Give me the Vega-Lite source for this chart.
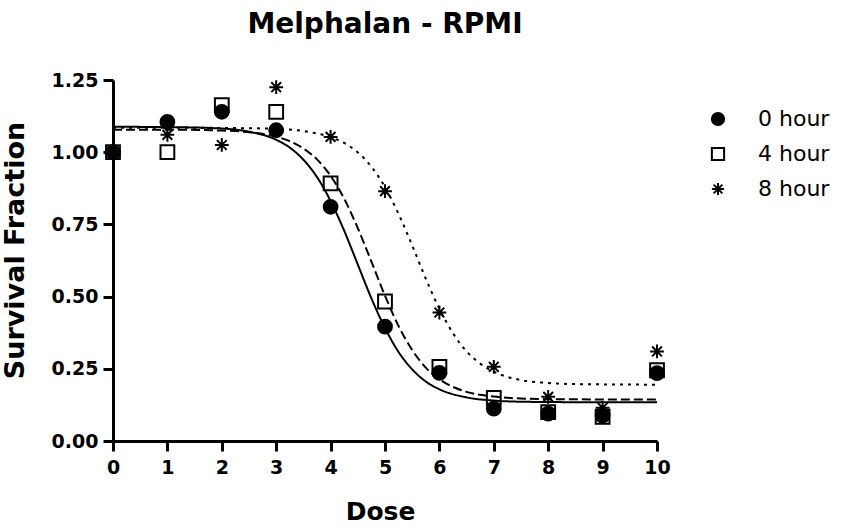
{
  "$schema": "https://vega.github.io/schema/vega-lite/v6.json",
  "autosize": "none",
  "width": 544,
  "height": 361,
  "padding": {"left": 113, "top": 80, "right": 184, "bottom": 87},
  "background": "white",
  "title": {
    "text": "Melphalan - RPMI",
    "font": "DejaVu Sans",
    "fontSize": 28,
    "fontWeight": "bold",
    "color": "black",
    "anchor": "middle",
    "offset": 32
  },
  "datasets": {
    "curves": [
      {"fit": "0 hour", "dose": 0, "fraction": 1.088},
      {"fit": "0 hour", "dose": 1, "fraction": 1.087},
      {"fit": "0 hour", "dose": 2, "fraction": 1.082},
      {"fit": "0 hour", "dose": 2.5, "fraction": 1.071},
      {"fit": "0 hour", "dose": 3, "fraction": 1.043},
      {"fit": "0 hour", "dose": 3.25, "fraction": 1.016},
      {"fit": "0 hour", "dose": 3.5, "fraction": 0.974},
      {"fit": "0 hour", "dose": 3.75, "fraction": 0.914},
      {"fit": "0 hour", "dose": 4, "fraction": 0.831},
      {"fit": "0 hour", "dose": 4.25, "fraction": 0.728},
      {"fit": "0 hour", "dose": 4.5, "fraction": 0.611},
      {"fit": "0 hour", "dose": 4.75, "fraction": 0.494},
      {"fit": "0 hour", "dose": 5, "fraction": 0.391},
      {"fit": "0 hour", "dose": 5.25, "fraction": 0.308},
      {"fit": "0 hour", "dose": 5.5, "fraction": 0.248},
      {"fit": "0 hour", "dose": 5.75, "fraction": 0.206},
      {"fit": "0 hour", "dose": 6, "fraction": 0.179},
      {"fit": "0 hour", "dose": 6.5, "fraction": 0.151},
      {"fit": "0 hour", "dose": 7, "fraction": 0.140},
      {"fit": "0 hour", "dose": 7.5, "fraction": 0.136},
      {"fit": "0 hour", "dose": 8, "fraction": 0.135},
      {"fit": "0 hour", "dose": 9, "fraction": 0.134},
      {"fit": "0 hour", "dose": 10, "fraction": 0.134},
      {"fit": "4 hour", "dose": 0, "fraction": 1.078},
      {"fit": "4 hour", "dose": 1, "fraction": 1.078},
      {"fit": "4 hour", "dose": 2, "fraction": 1.075},
      {"fit": "4 hour", "dose": 2.5, "fraction": 1.069},
      {"fit": "4 hour", "dose": 3, "fraction": 1.054},
      {"fit": "4 hour", "dose": 3.25, "fraction": 1.038},
      {"fit": "4 hour", "dose": 3.5, "fraction": 1.013},
      {"fit": "4 hour", "dose": 3.75, "fraction": 0.975},
      {"fit": "4 hour", "dose": 4, "fraction": 0.918},
      {"fit": "4 hour", "dose": 4.25, "fraction": 0.839},
      {"fit": "4 hour", "dose": 4.5, "fraction": 0.737},
      {"fit": "4 hour", "dose": 4.75, "fraction": 0.621},
      {"fit": "4 hour", "dose": 5, "fraction": 0.503},
      {"fit": "4 hour", "dose": 5.25, "fraction": 0.398},
      {"fit": "4 hour", "dose": 5.5, "fraction": 0.315},
      {"fit": "4 hour", "dose": 5.75, "fraction": 0.254},
      {"fit": "4 hour", "dose": 6, "fraction": 0.214},
      {"fit": "4 hour", "dose": 6.5, "fraction": 0.170},
      {"fit": "4 hour", "dose": 7, "fraction": 0.154},
      {"fit": "4 hour", "dose": 7.5, "fraction": 0.147},
      {"fit": "4 hour", "dose": 8, "fraction": 0.145},
      {"fit": "4 hour", "dose": 9, "fraction": 0.144},
      {"fit": "4 hour", "dose": 10, "fraction": 0.144},
      {"fit": "8 hour", "dose": 0, "fraction": 1.085},
      {"fit": "8 hour", "dose": 1, "fraction": 1.085},
      {"fit": "8 hour", "dose": 2, "fraction": 1.084},
      {"fit": "8 hour", "dose": 3, "fraction": 1.081},
      {"fit": "8 hour", "dose": 3.5, "fraction": 1.073},
      {"fit": "8 hour", "dose": 4, "fraction": 1.052},
      {"fit": "8 hour", "dose": 4.25, "fraction": 1.032},
      {"fit": "8 hour", "dose": 4.5, "fraction": 0.999},
      {"fit": "8 hour", "dose": 4.75, "fraction": 0.950},
      {"fit": "8 hour", "dose": 5, "fraction": 0.879},
      {"fit": "8 hour", "dose": 5.25, "fraction": 0.786},
      {"fit": "8 hour", "dose": 5.5, "fraction": 0.677},
      {"fit": "8 hour", "dose": 5.75, "fraction": 0.562},
      {"fit": "8 hour", "dose": 6, "fraction": 0.458},
      {"fit": "8 hour", "dose": 6.25, "fraction": 0.373},
      {"fit": "8 hour", "dose": 6.5, "fraction": 0.310},
      {"fit": "8 hour", "dose": 6.75, "fraction": 0.268},
      {"fit": "8 hour", "dose": 7, "fraction": 0.240},
      {"fit": "8 hour", "dose": 7.5, "fraction": 0.211},
      {"fit": "8 hour", "dose": 8, "fraction": 0.201},
      {"fit": "8 hour", "dose": 8.5, "fraction": 0.197},
      {"fit": "8 hour", "dose": 9, "fraction": 0.196},
      {"fit": "8 hour", "dose": 10, "fraction": 0.195}
    ],
    "measurements": [
      {"series": "8 hour", "dose": 0, "fraction": 1.00},
      {"series": "8 hour", "dose": 1, "fraction": 1.06},
      {"series": "8 hour", "dose": 2, "fraction": 1.025},
      {"series": "8 hour", "dose": 3, "fraction": 1.225},
      {"series": "8 hour", "dose": 4, "fraction": 1.053},
      {"series": "8 hour", "dose": 5, "fraction": 0.865},
      {"series": "8 hour", "dose": 6, "fraction": 0.445},
      {"series": "8 hour", "dose": 7, "fraction": 0.257},
      {"series": "8 hour", "dose": 8, "fraction": 0.153},
      {"series": "8 hour", "dose": 9, "fraction": 0.115},
      {"series": "8 hour", "dose": 10, "fraction": 0.31},
      {"series": "4 hour", "dose": 0, "fraction": 1.00},
      {"series": "4 hour", "dose": 1, "fraction": 1.00},
      {"series": "4 hour", "dose": 2, "fraction": 1.163},
      {"series": "4 hour", "dose": 3, "fraction": 1.14},
      {"series": "4 hour", "dose": 4, "fraction": 0.892},
      {"series": "4 hour", "dose": 5, "fraction": 0.483},
      {"series": "4 hour", "dose": 6, "fraction": 0.257},
      {"series": "4 hour", "dose": 7, "fraction": 0.149},
      {"series": "4 hour", "dose": 8, "fraction": 0.10},
      {"series": "4 hour", "dose": 9, "fraction": 0.084},
      {"series": "4 hour", "dose": 10, "fraction": 0.245},
      {"series": "0 hour", "dose": 0, "fraction": 1.00},
      {"series": "0 hour", "dose": 1, "fraction": 1.105},
      {"series": "0 hour", "dose": 2, "fraction": 1.14},
      {"series": "0 hour", "dose": 3, "fraction": 1.076},
      {"series": "0 hour", "dose": 4, "fraction": 0.811},
      {"series": "0 hour", "dose": 5, "fraction": 0.396},
      {"series": "0 hour", "dose": 6, "fraction": 0.236},
      {"series": "0 hour", "dose": 7, "fraction": 0.112},
      {"series": "0 hour", "dose": 8, "fraction": 0.095},
      {"series": "0 hour", "dose": 9, "fraction": 0.088},
      {"series": "0 hour", "dose": 10, "fraction": 0.235}
    ]
  },
  "encoding": {
    "x": {
      "field": "dose",
      "type": "quantitative",
      "scale": {"domain": [0, 10], "nice": false, "zero": false},
      "axis": {
        "title": "Dose",
        "values": [0, 1, 2, 3, 4, 5, 6, 7, 8, 9, 10],
        "labelPadding": 7,
        "titleX": 267,
        "titleY": 58,
        "titleFontSize": 25
      }
    },
    "y": {
      "field": "fraction",
      "type": "quantitative",
      "scale": {"domain": [0, 1.25], "nice": false},
      "axis": {
        "title": "Survival Fraction",
        "values": [0, 0.25, 0.5, 0.75, 1, 1.25],
        "format": ".2f",
        "labelPadding": 5,
        "titleX": -84,
        "titleY": 170,
        "titleAlign": "center",
        "titleBaseline": "bottom",
        "titleFontSize": 27
      }
    }
  },
  "layer": [
    {
      "data": {"name": "curves"},
      "mark": {"type": "line", "color": "black", "strokeWidth": 2, "interpolate": "monotone"},
      "encoding": {
        "detail": {"field": "fit", "type": "nominal"},
        "strokeDash": {
          "field": "fit",
          "type": "nominal",
          "scale": {"range": [[1, 0], [9, 4], [3, 5]]},
          "legend": null
        }
      }
    },
    {
      "data": {"name": "measurements"},
      "mark": {"type": "point", "filled": true, "stroke": "black", "strokeWidth": 2, "size": 190, "opacity": 1},
      "encoding": {
        "shape": {
          "field": "series",
          "type": "nominal",
          "title": null,
          "scale": {
            "domain": ["0 hour", "4 hour", "8 hour"],
            "range": ["circle", "square", "M0,-1L0,1M-1,0L1,0M-0.71,-0.71L0.71,0.71M-0.71,0.71L0.71,-0.71"]
          }
        },
        "color": {
          "field": "series",
          "type": "nominal",
          "title": null,
          "scale": {"domain": ["0 hour", "4 hour", "8 hour"], "range": ["black", "transparent", "black"]}
        }
      }
    }
  ],
  "config": {
    "view": {"stroke": null},
    "axis": {
      "grid": false,
      "labelFlush": false,
      "domainColor": "black",
      "domainWidth": 3,
      "tickColor": "black",
      "tickWidth": 3,
      "tickSize": 10,
      "labelFont": "DejaVu Sans",
      "labelFontWeight": "bold",
      "labelFontSize": 19,
      "labelColor": "black",
      "titleFont": "DejaVu Sans",
      "titleFontWeight": "bold",
      "titleColor": "black"
    },
    "legend": {
      "orient": "none",
      "legendX": 594,
      "legendY": 28,
      "padding": 0,
      "labelFont": "DejaVu Sans",
      "labelFontSize": 22,
      "labelColor": "black",
      "labelOffset": 29,
      "symbolSize": 150,
      "symbolStrokeColor": "black",
      "symbolStrokeWidth": 2,
      "rowPadding": 13
    }
  }
}
